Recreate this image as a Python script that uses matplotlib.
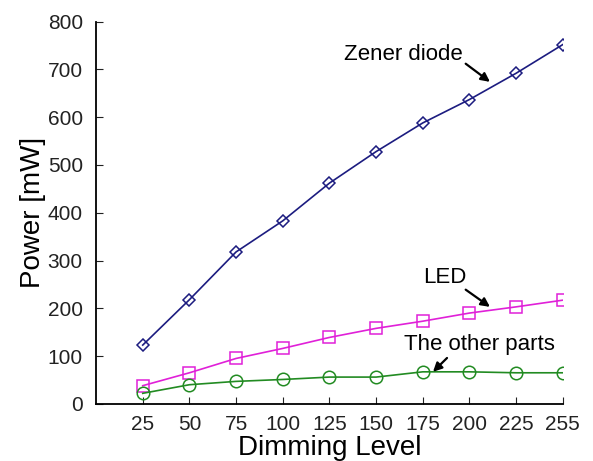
import matplotlib
matplotlib.use("Agg")
from matplotlib import pyplot as plt

# data
levels = ["25", "50", "75", "100", "125", "150", "175", "200", "225", "255"]
zener = [123, 218, 318, 383, 462, 528, 588, 637, 692, 752]
led = [38, 65, 95, 116, 139, 158, 173, 190, 203, 217]
other = [22, 40, 47, 51, 56, 56, 67, 67, 65, 65]

plt.rcParams["font.family"] = ["Liberation Sans", "DejaVu Sans"]

fig = plt.figure(figsize=(5.93, 4.61), dpi=100)
ax = fig.add_axes([0.162, 0.124, 0.787, 0.829])

x = list(range(1, len(levels) + 1))
ax.plot(x, zener, color="#1c1c80", marker="D", markersize=6.5,
        markerfacecolor="none", markeredgewidth=1.1, linewidth=1.2)
ax.plot(x, led, color="#e020d8", marker="s", markersize=9,
        markerfacecolor="none", markeredgewidth=1.1, linewidth=1.2)
ax.plot(x, other, color="#228b22", marker="o", markersize=9,
        markerfacecolor="none", markeredgewidth=1.1, linewidth=1.2)

ax.set_xlim(0, 10)
ax.set_ylim(0, 800)
ax.set_xticks(x)
ax.set_xticklabels(levels)
ax.set_yticks(range(0, 801, 100))
ax.tick_params(direction="in", length=5, labelsize=15, colors="#222222")
ax.tick_params(axis="x", pad=8)
ax.tick_params(axis="y", pad=9.5)
ax.spines["top"].set_visible(False)
ax.spines["right"].set_visible(False)
for s in ("left", "bottom"):
    ax.spines[s].set_linewidth(1.3)

ax.set_xlabel("Dimming Level", fontsize=20, labelpad=1)
ax.set_ylabel("Power [mW]", fontsize=20, labelpad=1)

arrow = dict(arrowstyle="-|>", color="black", lw=1.6, mutation_scale=13,
             shrinkA=0, shrinkB=0)
ax.text(6.58, 731, "Zener diode", fontsize=16, ha="center", va="center")
ax.annotate("", xy=(8.44, 674), xytext=(7.92, 712), arrowprops=arrow)
ax.text(7.47, 264, "LED", fontsize=16, ha="center", va="center")
ax.annotate("", xy=(8.44, 203), xytext=(7.92, 239), arrowprops=arrow)
ax.text(8.22, 124, "The other parts", fontsize=16, ha="center", va="center")
ax.annotate("", xy=(7.22, 67), xytext=(7.52, 96), arrowprops=arrow)

fig.savefig("out.png", dpi=100)
